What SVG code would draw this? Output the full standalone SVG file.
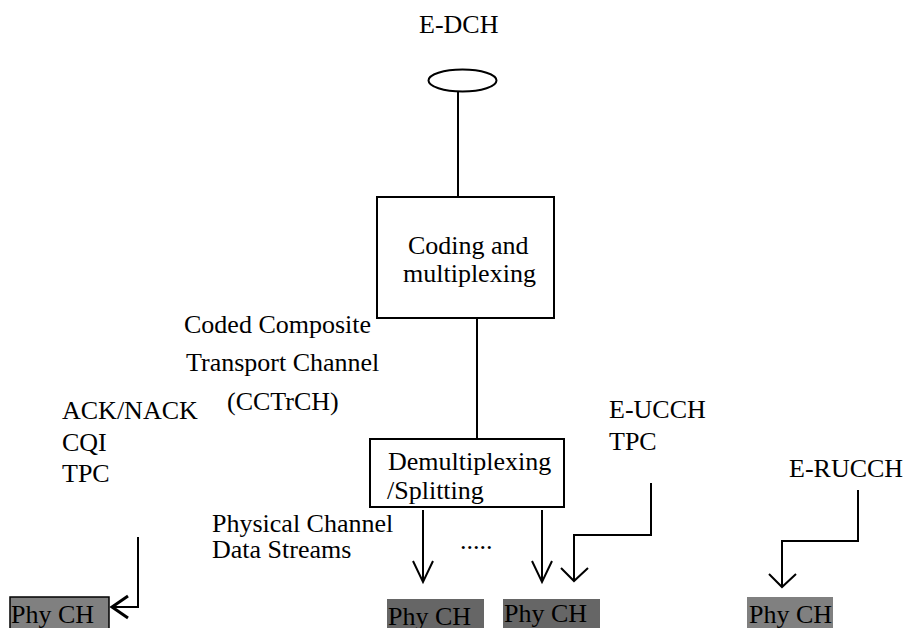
<svg xmlns="http://www.w3.org/2000/svg" width="906" height="628" viewBox="0 0 906 628">
<style>
text{font-family:"Liberation Serif","Times New Roman",serif;font-size:26px;fill:#000}
.box{fill:#fff;stroke:#000;stroke-width:2}
.ln{fill:none;stroke:#000;stroke-width:2}
.phyA{fill:#808080;stroke:#000;stroke-width:1.5}
.phyB{fill:#666666;stroke:none}
</style>
<rect width="906" height="628" fill="#fff"/>
<g id="connectors">
<line class="ln" x1="458" y1="91" x2="458" y2="197"/>
<line class="ln" x1="477" y1="318" x2="477" y2="439"/>
<polyline class="ln" points="138,537 138,607 112,607"/>
<polyline class="ln" style="stroke-width:3" points="128,596 112,607 128,618"/>
<line class="ln" x1="423" y1="510" x2="423" y2="582"/>
<polyline class="ln" points="413,561 423,582 433,561"/>
<line class="ln" x1="542" y1="510" x2="542" y2="582"/>
<polyline class="ln" points="532,561 542,582 552,561"/>
<polyline class="ln" points="651,483 651,535 574,535 574,581"/>
<polyline class="ln" points="561,568 574,581 588,568"/>
<polyline class="ln" points="858,490 858,541 782,541 782,587"/>
<polyline class="ln" points="769,574 782,587 796,574"/>
</g>
<g id="edch">
<ellipse cx="462.5" cy="80.5" rx="34" ry="11" class="box"/>
<text x="419" y="33">E-DCH</text>
</g>
<g id="coding">
<rect class="box" x="377" y="197" width="177" height="121"/>
<text x="408" y="254">Coding and</text>
<text x="403" y="282">multiplexing</text>
</g>
<g id="cctrch">
<text x="184" y="333">Coded Composite</text>
<text x="186" y="371">Transport Channel</text>
<text x="227" y="410">(CCTrCH)</text>
</g>
<g id="demux">
<rect class="box" x="370" y="439" width="194" height="68"/>
<text x="388" y="470">Demultiplexing</text>
<text x="387" y="499">/Splitting</text>
</g>
<g id="acknack">
<text x="62" y="419">ACK/NACK</text>
<text x="62" y="451">CQI</text>
<text x="62" y="482">TPC</text>
</g>
<g id="eucch">
<text x="609" y="418">E-UCCH</text>
<text x="609" y="450">TPC</text>
</g>
<g id="erucch">
<text x="789" y="477">E-RUCCH</text>
</g>
<g id="pcds">
<text x="212" y="532">Physical Channel</text>
<text x="212" y="558">Data Streams</text>
<text x="460" y="549">.....</text>
</g>
<g id="phy1"><rect class="phyA" x="10" y="597" width="99" height="32"/><text x="11" y="623">Phy CH</text></g>
<g id="phy2"><rect class="phyB" x="387" y="599" width="97" height="29"/><text x="388" y="625">Phy CH</text></g>
<g id="phy3"><rect class="phyB" x="503" y="599" width="97" height="29"/><text x="504" y="622">Phy CH</text></g>
<g id="phy4"><rect class="phyA" x="747" y="597" width="86" height="32" style="stroke:none"/><text x="749" y="623">Phy CH</text></g>
</svg>
